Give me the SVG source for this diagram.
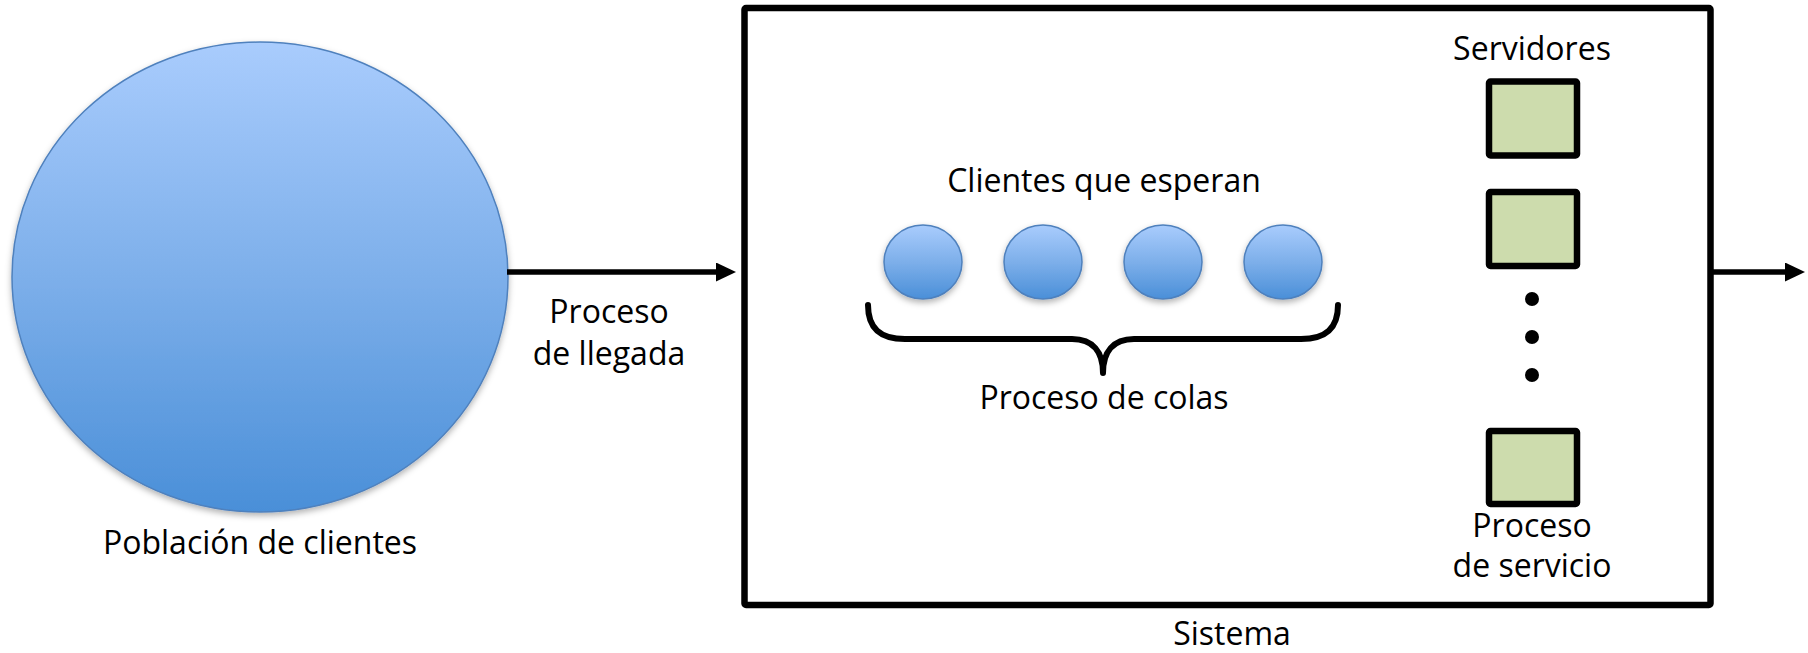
<svg xmlns="http://www.w3.org/2000/svg" width="1808" height="653" viewBox="0 0 1808 653">
  <style>
    text { font-family: "Open Sans", "Noto Sans", "Liberation Sans", sans-serif; font-size: 32px; fill: #000; text-anchor: middle; }
    .conn { stroke: #000; stroke-width: 5.5; fill: none; }
    .client { stroke: #4f81bd; stroke-width: 1.5; }
    .server { fill: #cddcad; stroke: #000; stroke-width: 6.5; }
  </style>
  <defs>
    <linearGradient id="blueGrad" x1="0" y1="0" x2="0" y2="1">
      <stop offset="0" stop-color="#a9ccfd"/>
      <stop offset="0.5" stop-color="#7dafea"/>
      <stop offset="1" stop-color="#4a8fd8"/>
    </linearGradient>
    <filter id="shadow" x="-20%" y="-20%" width="140%" height="150%">
      <feDropShadow dx="0" dy="3" stdDeviation="3" flood-color="#000" flood-opacity="0.3"/>
    </filter>
    <marker id="arrow" markerUnits="userSpaceOnUse" markerWidth="21" markerHeight="20" refX="0" refY="9.5" orient="auto">
      <path d="M0,0 L20,9.5 L0,19 Z" fill="#000"/>
    </marker>
  </defs>

  <g id="poblacion">
    <ellipse class="client" cx="260" cy="277" rx="248" ry="235" fill="url(#blueGrad)" filter="url(#shadow)"/>
    <text x="260" y="554">Población de clientes</text>
  </g>

  <g id="sistema">
    <rect x="744.5" y="8" width="966" height="597" rx="1.5" fill="none" stroke="#000" stroke-width="6.5"/>
    <text x="1232" y="645">Sistema</text>
  </g>

  <g id="clientes-espera">
    <text x="1104" y="192">Clientes que esperan</text>
    <ellipse class="client" cx="923" cy="262" rx="39" ry="37" fill="url(#blueGrad)" filter="url(#shadow)"/>
    <ellipse class="client" cx="1043" cy="262" rx="39" ry="37" fill="url(#blueGrad)" filter="url(#shadow)"/>
    <ellipse class="client" cx="1163" cy="262" rx="39" ry="37" fill="url(#blueGrad)" filter="url(#shadow)"/>
    <ellipse class="client" cx="1283" cy="262" rx="39" ry="37" fill="url(#blueGrad)" filter="url(#shadow)"/>
  </g>

  <g id="proceso-colas">
    <path d="M868,305 C868,328 880,339 905,339 L1072,339 C1093,339 1103,352 1103,373 C1103,352 1113,339 1134,339 L1301,339 C1326,339 1338,328 1338,305" fill="none" stroke="#000" stroke-width="6" stroke-linecap="round" stroke-linejoin="round"/>
    <text x="1104" y="409">Proceso de colas</text>
  </g>

  <g id="servidores">
    <text x="1532" y="60">Servidores</text>
    <rect class="server" x="1489" y="81.5" width="88" height="74" rx="1.5"/>
    <rect class="server" x="1489" y="192" width="88" height="74" rx="1.5"/>
    <circle cx="1532" cy="299" r="7"/>
    <circle cx="1532" cy="337" r="7"/>
    <circle cx="1532" cy="375" r="7"/>
    <rect class="server" x="1489" y="431" width="88" height="73" rx="1.5"/>
    <text x="1532" y="537">Proceso</text>
    <text x="1532" y="577">de servicio</text>
  </g>

  <g id="connectors">
    <line class="conn" x1="507" y1="272" x2="716" y2="272" marker-end="url(#arrow)"/>
    <line class="conn" x1="1710" y1="272" x2="1785" y2="272" marker-end="url(#arrow)"/>
    <text x="609" y="323">Proceso</text>
    <text x="609" y="365">de llegada</text>
  </g>
</svg>
